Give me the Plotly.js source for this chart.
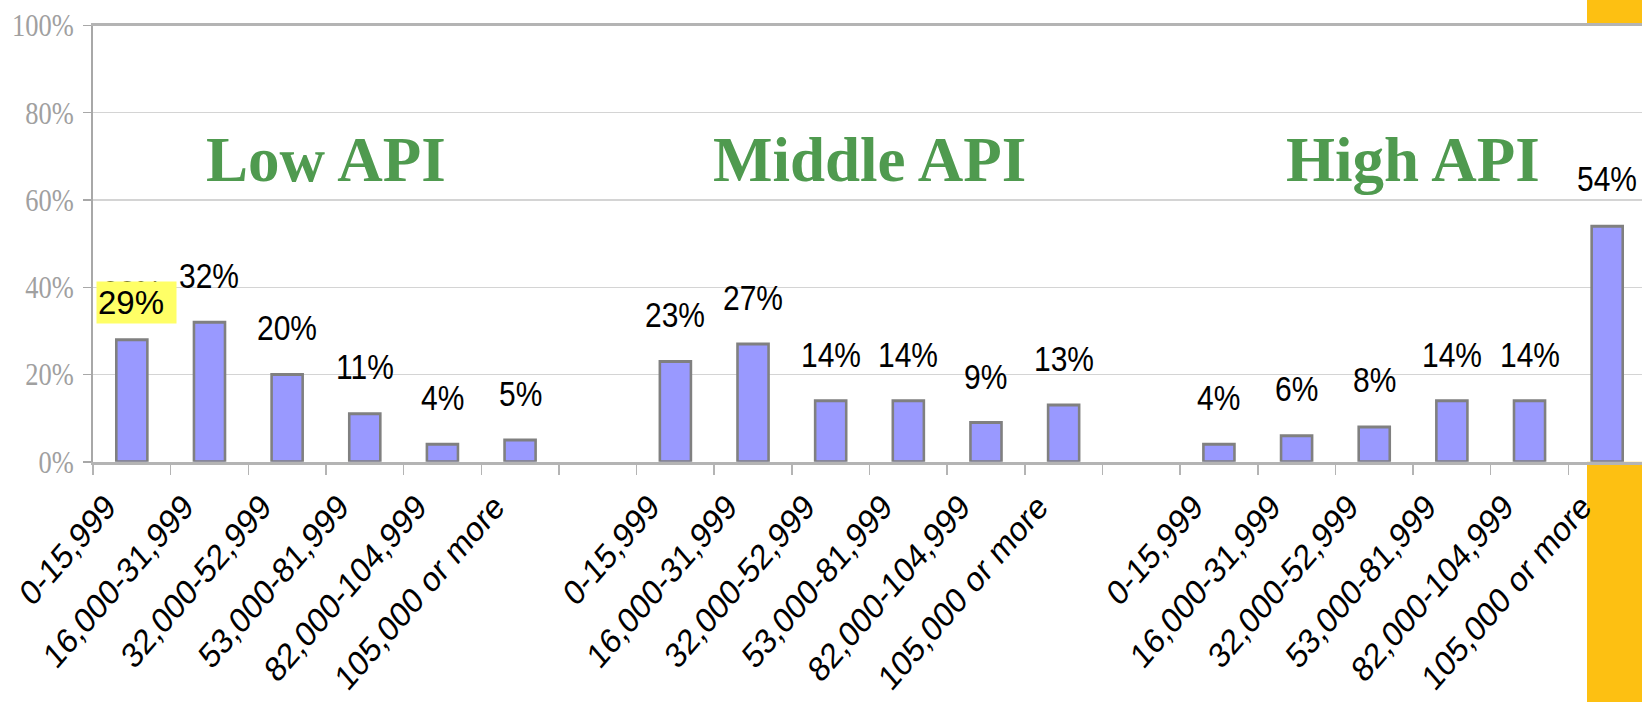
<!DOCTYPE html>
<html>
<head>
<meta charset="utf-8">
<script src="https://cdn.plot.ly/plotly-3.0.1.min.js"></script>
<style>
  html, body { margin: 0; padding: 0; background: #ffffff; overflow: hidden; width: 1642px; height: 702px; }
  #strip { position: absolute; left: 1587px; top: 0; width: 60px; height: 702px; background: #FDC012; }
  #chart { position: absolute; left: 0; top: 0; width: 1646px; height: 605px; transform-origin: 0 0; transform: scaleY(1.160331); }
  #overlay { position: absolute; left: 0; top: 0; width: 1646px; height: 702px; pointer-events: none; }
</style>
</head>
<body>
<div id="strip"></div>
<div id="chart"></div>
<div id="overlay"></div>
<script>
// ---- data ----
const groups = ['Low API', 'Middle API', 'High API'];
const incomeBrackets = ['0-15,999', '16,000-31,999', '32,000-52,999', '53,000-81,999', '82,000-104,999', '105,000 or more'];
const lowAPI = [28, 32, 20, 11, 4, 5];
const middleAPI = [23, 27, 14, 14, 9, 13];
const highAPI = [4, 6, 8, 14, 14, 54];
const highlightLabel = '29%';
const yTicks = [0, 20, 40, 60, 80, 100];

// ---- build category positions (one empty slot between groups) ----
const series = [lowAPI, middleAPI, highAPI];
const slot = incomeBrackets.length + 1;
const nCats = groups.length * slot - 1;
const xs = [], ys = [], tickvals = [], ticktext = [];
series.forEach((vals, g) => {
  vals.forEach((v, j) => { xs.push(g * slot + j); ys.push(v); });
});
for (let i = 0; i < nCats; i++) {
  tickvals.push(i);
  const j = i % slot;
  ticktext.push(j < incomeBrackets.length ? incomeBrackets[j] : '');
}
const boundaries = [];
for (let i = 0; i <= nCats; i++) boundaries.push(i - 0.5);

const S = 702 / 605;           // vertical stretch of the embedded chart
const H = 605;
const plotTop = 25, plotBottom = 462;

const dataLabels = xs.map((x, i) => ({
  x: x, y: ys[i], xref: 'x', yref: 'y', text: ys[i] + '%', showarrow: false,
  yanchor: 'middle', yshift: 40,
  font: { family: 'Arial, "Liberation Sans", sans-serif', size: 30, color: '#000000' }
}));

const barTrace = {
  type: 'bar', x: xs, y: ys,
  marker: { color: '#9999FF', line: { color: '#808080', width: 2.6 } },
  hoverinfo: 'skip'
};

const layout = {
  width: 1646, height: H,
  margin: { l: 93.3, r: 0, t: plotTop / S, b: H - plotBottom / S, pad: 0 },
  paper_bgcolor: 'rgba(0,0,0,0)', plot_bgcolor: '#ffffff',
  showlegend: false, bargap: 0.6,
  xaxis: {
    range: [-0.5, nCats - 0.5], tickmode: 'array', tickvals: tickvals, ticktext: ticktext,
    tickangle: -45, ticks: '', showgrid: false, zeroline: false,
    showline: true, linecolor: '#b4b4b4', linewidth: 2.6, mirror: true,
    tickfont: { family: 'Arial, "Liberation Sans", sans-serif', size: 30.5, color: '#000000' },
    ticklabelstandoff: 6, ticklabelshift: -25,
    minor: { tickmode: 'array', tickvals: boundaries, ticks: 'outside', ticklen: 8.5, tickwidth: 1.5, tickcolor: '#b4b4b4', showgrid: false }
  },
  yaxis: {
    range: [0, 100], tickmode: 'array', tickvals: yTicks, ticktext: yTicks.map(v => v + '%'),
    showgrid: true, gridcolor: '#d4d4d4', gridwidth: 1, zeroline: false,
    showline: true, linecolor: '#a8a8a8', linewidth: 2, mirror: true,
    ticks: 'outside', ticklen: 8, tickwidth: 1.2, tickcolor: '#a8a8a8',
    ticklabelstandoff: 4,
    tickfont: { family: '"Liberation Serif", "Times New Roman", serif', size: 26.5, color: '#a0a0a0' }
  },
  annotations: dataLabels
};

Plotly.newPlot('chart', [barTrace], layout, { displayModeBar: false, staticPlot: true });

// ---- overlay (text boxes placed on the slide, not stretched) ----
const groupCenters = groups.map((g, k) => k * slot + (incomeBrackets.length - 1) / 2);
const overlayAnn = groups.map((g, k) => ({
  x: groupCenters[k], y: 69, xref: 'x', yref: 'y', text: g, showarrow: false,
  xanchor: 'center', yanchor: 'middle',
  font: { family: '"Liberation Serif", "Times New Roman", serif', size: 63, color: '#4F9A4F', weight: 'bold' }
}));
overlayAnn.push({
  x: xs[0], y: ys[0], xref: 'x', yref: 'y', text: highlightLabel, showarrow: false,
  xanchor: 'left', yanchor: 'bottom', xshift: -36, yshift: 16,
  width: 77, height: 39, align: 'left', valign: 'middle', borderpad: 1,
  bgcolor: '#FFFF66',
  font: { family: 'Arial, "Liberation Sans", sans-serif', size: 33, color: '#000000' }
});

Plotly.newPlot('overlay', [], {
  width: 1646, height: 702,
  margin: { l: 93.3, r: 0, t: plotTop, b: 702 - plotBottom, pad: 0 },
  paper_bgcolor: 'rgba(0,0,0,0)', plot_bgcolor: 'rgba(0,0,0,0)', showlegend: false,
  xaxis: { range: [-0.5, nCats - 0.5], visible: false },
  yaxis: { range: [0, 100], visible: false },
  annotations: overlayAnn
}, { displayModeBar: false, staticPlot: true });
</script>
</body>
</html>
